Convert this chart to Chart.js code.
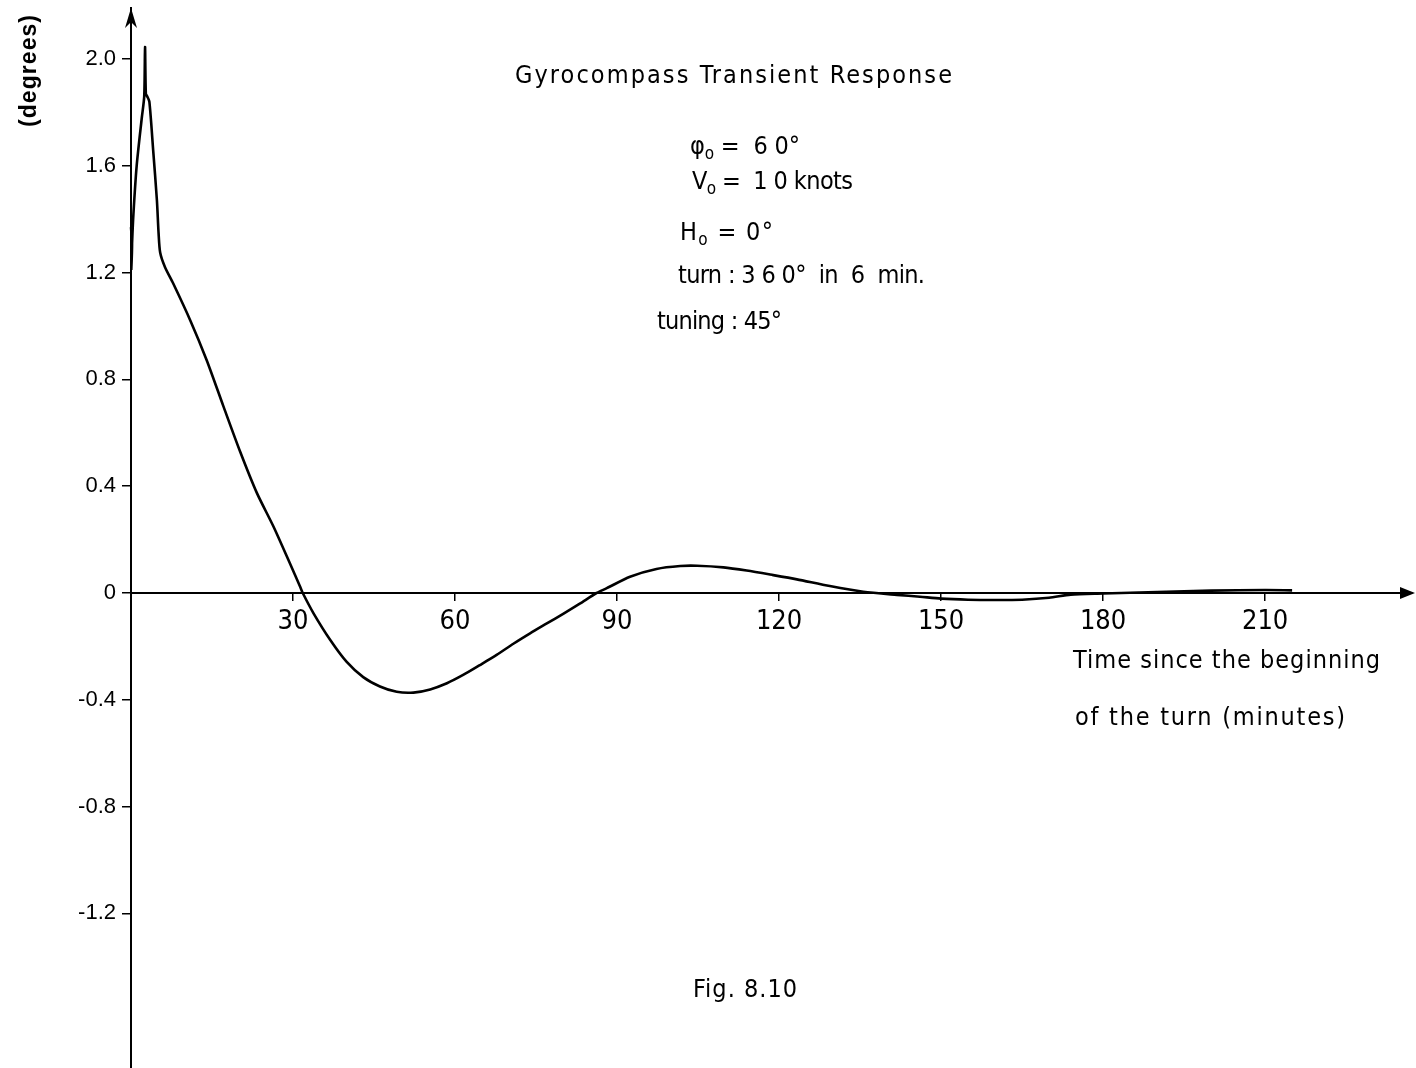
<!DOCTYPE html>
<html>
<head>
<meta charset="utf-8">
<script src="https://cdn.jsdelivr.net/npm/chart.js@4"></script>
<style>
  html, body { margin: 0; padding: 0; background: #fff; }
  #wrap { width: 1416px; height: 1068px; }
</style>
</head>
<body>
<div id="wrap"><canvas id="c" width="1416" height="1068"></canvas></div>
<script>
// ---- Data ----
const timeMin = [0, 0.2, 0.05, 0.2, 0.45, 1.05, 2.0, 2.45, 2.6, 2.75, 3.0, 3.4, 4.1, 4.8, 5.1, 5.4, 6.3, 7.8,
  11.0, 14.0, 17.1, 20.2, 23.3, 26.4, 29.4, 31.3, 31.8, 33.8, 36.9, 39.9, 43.0, 46.1, 49.2, 52.3, 55.4, 58.5,
  61.5, 64.6, 67.7, 70.8, 73.9, 77.0, 80.1, 83.1, 86.2, 88.1, 92.4, 97.3, 101.7, 104.8, 109.7, 114.0, 118.9,
  123.3, 129.4, 135.6, 141.8, 146.1, 150, 155, 160, 165, 170, 174, 180, 190, 200, 210, 215];
const deviationDeg = [1.37, 1.31, 1.21, 1.31, 1.42, 1.60, 1.78, 1.86, 2.045, 1.87, 1.86, 1.84, 1.66, 1.47, 1.35, 1.275, 1.22, 1.16,
  1.02, 0.873, 0.70, 0.53, 0.375, 0.248, 0.112, 0.024, 0.0, -0.076, -0.176, -0.257, -0.315, -0.35, -0.37, -0.373, -0.361, -0.338,
  -0.307, -0.27, -0.232, -0.19, -0.151, -0.114, -0.077, -0.04, 0.0, 0.018, 0.061, 0.09, 0.101, 0.102, 0.096, 0.084, 0.067,
  0.051, 0.026, 0.005, -0.007, -0.014, -0.021, -0.025, -0.026, -0.025, -0.018, -0.006, -0.002, 0.004, 0.009, 0.011, 0.010];
const xTickValues = [30, 60, 90, 120, 150, 180, 210];
const yTickValues = [-1.2, -0.8, -0.4, 0, 0.4, 0.8, 1.2, 1.6, 2.0];
const xRange = [0, 237.2];
const yRange = [-1.779, 2.191];

// ---- Text annotations ----
const titleText = 'Gyrocompass Transient Response';
const paramLines = [
  [['φ', 'n'], ['o', 'sub'], [' =  6 0°', 'n']],
  [['V', 'n'], ['o', 'sub'], [' =  1 0 knots', 'n']],
  [['H', 'n'], ['o', 'sub'], [' = 0°', 'n']],
  [['turn : 3 6 0°  in  6  min.', 'n']],
  [['tuning : 45°', 'n']]
];
const xTitleLines = ['Time since the beginning', 'of the turn (minutes)'];
const yTitleText = '(degrees)';
const figLabel = 'Fig. 8.10';

const NARROW = "'Liberation Sans Narrow', 'DejaVu Sans Condensed', 'Open Sans', sans-serif";
const REG = "'Liberation Sans', Arial, sans-serif";

const points = timeMin.map((t, i) => ({ x: t, y: deviationDeg[i] }));

function fitParts(ctx, parts, x1, x2, yMid, size) {
  const fontN = size + 'px ' + NARROW;
  const fontS = Math.round(size * 0.68) + 'px ' + NARROW;
  ctx.letterSpacing = '0px';
  let total = 0, n = 0;
  const widths = parts.map(([t, k]) => {
    ctx.font = k === 'sub' ? fontS : fontN;
    const w = ctx.measureText(t).width;
    total += w; n += [...t].length;
    return w;
  });
  const sp = n > 1 ? (x2 - x1 - total) / (n - 1) : 0;
  let x = x1;
  parts.forEach(([t, k], i) => {
    ctx.font = k === 'sub' ? fontS : fontN;
    ctx.letterSpacing = sp + 'px';
    ctx.textAlign = 'left';
    ctx.textBaseline = 'middle';
    ctx.fillText(t, x, k === 'sub' ? yMid + size * 0.3 : yMid);
    x += widths[i] + [...t].length * sp;
  });
  ctx.letterSpacing = '0px';
}

const annotationPlugin = {
  id: 'annotations',
  afterDraw(chart) {
    const ctx = chart.ctx;
    const xs = chart.scales.x, ys = chart.scales.y;
    const x0 = xs.getPixelForValue(0), y0 = ys.getPixelForValue(0);
    const area = chart.chartArea;
    ctx.save();
    ctx.fillStyle = '#000';
    // arrowheads on the axes
    ctx.beginPath();
    ctx.moveTo(x0, area.top);
    ctx.lineTo(x0 - 6, area.top + 20);
    ctx.lineTo(x0, area.top + 14);
    ctx.lineTo(x0 + 6, area.top + 20);
    ctx.closePath();
    ctx.fill();
    ctx.beginPath();
    ctx.moveTo(area.right + 3, y0);
    ctx.lineTo(area.right - 12, y0 - 6);
    ctx.lineTo(area.right - 12, y0 + 6);
    ctx.closePath();
    ctx.fill();

    // title and parameters
    fitParts(ctx, [[titleText, 'n']], 515, 952, 76, 25);
    const pl = [[690, 800, 147], [692, 853, 182], [680, 773, 233], [678, 925, 276], [657, 782, 322]];
    paramLines.forEach((parts, i) => fitParts(ctx, parts, pl[i][0], pl[i][1], pl[i][2], 25));
    fitParts(ctx, [[xTitleLines[0], 'n']], 1073, 1380, 661, 25);
    fitParts(ctx, [[xTitleLines[1], 'n']], 1075, 1345, 718, 25);
    fitParts(ctx, [[figLabel, 'n']], 693, 797, 990, 25);

    // y axis title (rotated)
    ctx.save();
    ctx.translate(30, 71);
    ctx.rotate(-Math.PI / 2);
    ctx.font = 'bold 23px ' + REG;
    ctx.letterSpacing = '0px';
    const w = ctx.measureText(yTitleText).width;
    const n = [...yTitleText].length;
    const sp = (112 - w) / (n - 1);
    ctx.letterSpacing = sp + 'px';
    ctx.textAlign = 'left';
    ctx.textBaseline = 'middle';
    ctx.fillText(yTitleText, -56, 0);
    ctx.restore();
    ctx.restore();
  }
};

new Chart(document.getElementById('c'), {
  type: 'line',
  data: {
    datasets: [{
      data: points,
      borderColor: '#000',
      borderWidth: 2.6,
      pointRadius: 0,
      tension: 0.25,
      fill: false,
      clip: false
    }]
  },
  options: {
    responsive: false,
    animation: false,
    events: [],
    layout: { padding: { left: 0, right: 4, top: 8, bottom: 0 } },
    plugins: { legend: { display: false }, tooltip: { enabled: false }, title: { display: false } },
    scales: {
      x: {
        type: 'linear',
        position: { y: 0 },
        min: xRange[0], max: xRange[1],
        afterFit(s) { s.height = 0; s.paddingLeft = 0; s.paddingRight = 0; },
        afterBuildTicks(s) { s.ticks = xTickValues.map(v => ({ value: v })); },
        grid: { drawOnChartArea: false, drawTicks: true, tickLength: 7, color: '#000', lineWidth: 1.5 },
        border: { display: true, color: '#000', width: 2 },
        ticks: {
          color: '#000', padding: 6, maxRotation: 0, autoSkip: false,
          font: { family: NARROW, size: 27 },
          callback: v => String(v)
        }
      },
      y: {
        type: 'linear',
        position: 'left',
        min: yRange[0], max: yRange[1],
        afterFit(s) { s.width = 131; s.paddingTop = 0; s.paddingBottom = 0; },
        afterBuildTicks(s) { s.ticks = yTickValues.map(v => ({ value: v })); },
        grid: { drawOnChartArea: false, drawTicks: true, tickLength: 9, color: '#000', lineWidth: 1.5 },
        border: { display: true, color: '#000', width: 2 },
        ticks: {
          color: '#000', padding: 6, autoSkip: false,
          font: { family: REG, size: 22 },
          callback: v => (Math.abs(v) < 1e-9 ? '0' : v.toFixed(1))
        }
      }
    }
  },
  plugins: [annotationPlugin]
});
</script>
</body>
</html>
